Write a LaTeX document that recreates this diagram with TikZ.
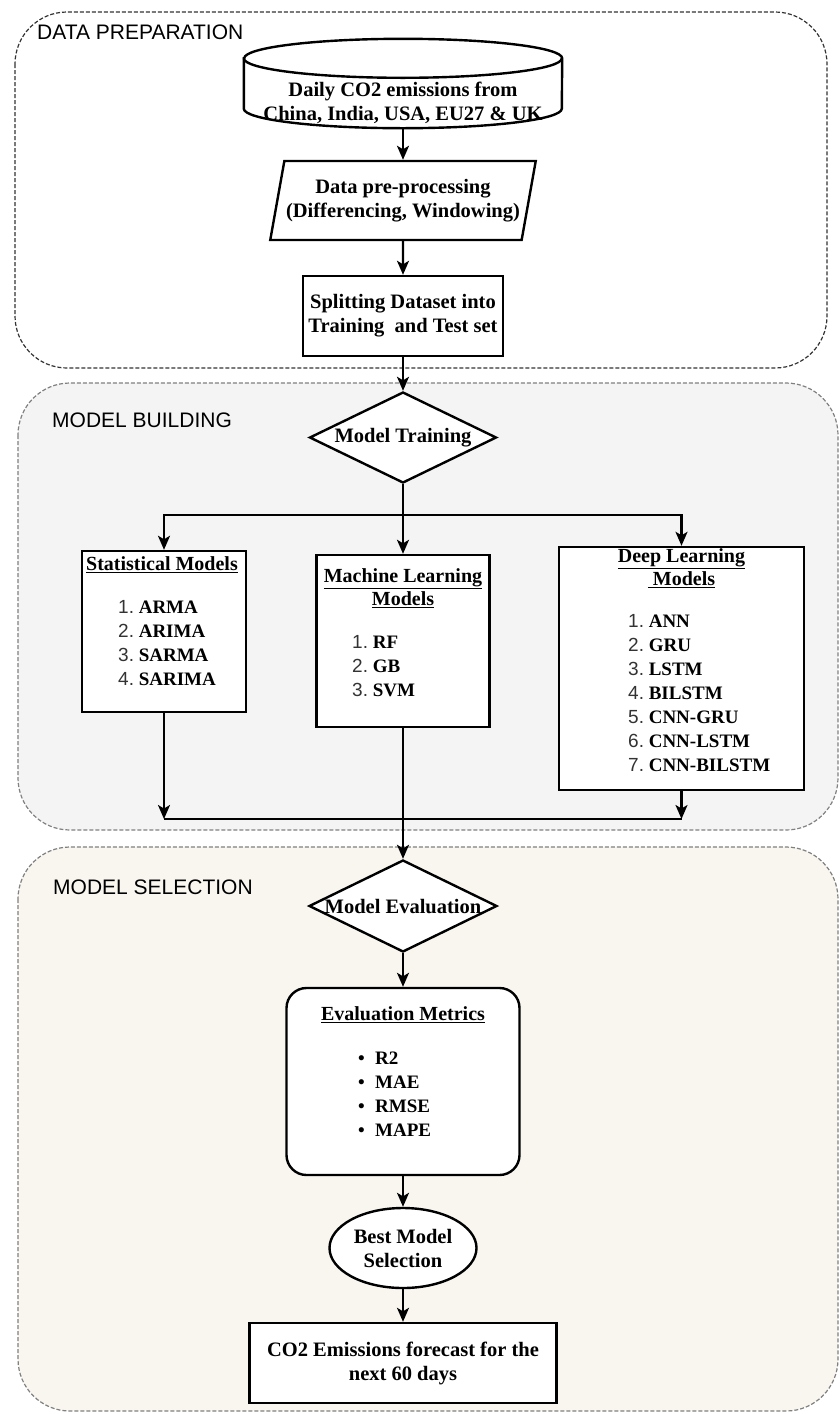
\documentclass[tikz,border=0pt]{standalone}
\usepackage{fontspec}
\setmainfont{Liberation Serif}
\setsansfont{Liberation Sans}
\usetikzlibrary{shapes.geometric,arrows.meta}
\definecolor{buildfill}{HTML}{F4F4F4}
\definecolor{selectfill}{HTML}{F8F6EF}
\definecolor{numgray}{HTML}{333333}
\newcommand{\nitem}[2]{{\sffamily\mdseries\color{numgray}#1.}\ #2}
\newcommand{\bitem}[1]{\makebox[17pt][l]{\textbullet}#1}
\tikzset{
  panel/.style={rounded corners=52pt, dash pattern=on 4pt off 2pt, line width=1.2pt},
  stage/.style={font=\sffamily\fontsize{21}{24}\selectfont, anchor=west, inner sep=0pt},
  box/.style={draw, line width=2.4pt, fill=white, align=center, inner sep=0pt,
    font=\bfseries\fontsize{20.5}{24}\selectfont},
  title/.style={align=center, inner sep=0pt, font=\bfseries\fontsize{20}{23}\selectfont},
  items/.style={anchor=north west, inner sep=0pt, font=\bfseries\fontsize{19}{24}\selectfont},
  flow/.style={line width=2.2pt, ->},
}
\begin{document}
\begin{tikzpicture}[x=1pt, y=-1pt, >={Stealth[length=14pt,width=12pt,inset=3.5pt]}]
  \useasboundingbox (0,0) rectangle (840,1414);

  % stages
  \draw[panel, draw=black!80] (15,12) rectangle (827,368);
  \draw[panel, draw=black!50, fill=buildfill] (18,383) rectangle (838,830);
  \draw[panel, draw=black!50, fill=selectfill] (18,847) rectangle (838,1411);
  \node[stage] (lblprep) at (37,32) {DATA PREPARATION};
  \node[stage] (lblbuild) at (52,420) {MODEL BUILDING};
  \node[stage] (lblselect) at (53,887) {MODEL SELECTION};

  % data preparation
  \node[minimum width=318pt, minimum height=89pt, inner sep=0pt] (src) at (403,83.5) {};
  \draw[line width=2.4pt, fill=white] ([yshift=-19.5pt]src.north west)
    -- ([yshift=19.5pt]src.south west)
    arc[start angle=180, end angle=360, x radius=159pt, y radius=19.5pt]
    -- ([yshift=-19.5pt]src.north east)
    arc[start angle=0, end angle=180, x radius=159pt, y radius=19.5pt] -- cycle;
  \draw[line width=2.4pt] ([yshift=-19.5pt]src.north west)
    arc[start angle=180, end angle=360, x radius=159pt, y radius=19.5pt];
  \node[box, draw=none, fill=none] (srctxt) at (403,102.5)
    {Daily CO2 emissions from\\China, India, USA, EU27 \& UK};
  \node[box, trapezium, trapezium left angle=72, trapezium right angle=108,
    trapezium stretches=true, minimum width=266pt, minimum height=79pt] (prep) at (403,200.5)
    {Data pre-processing\\(Differencing, Windowing)};
  \node[box, minimum width=200pt, minimum height=80pt] (split) at (403,316)
    {Splitting Dataset into\\Training \ and Test set};

  % model building
  \node[box, diamond, minimum width=187pt, minimum height=91pt] (train) at (403,437.5)
    {\makebox[0pt]{Model Training}};
  \node[box, minimum width=164pt, minimum height=161pt] (stat) at (164,631.5) {};
  \node[box, minimum width=173pt, minimum height=172pt] (ml) at (403,641) {};
  \node[box, minimum width=245pt, minimum height=243pt] (deep) at (681.5,668.5) {};
  \node[title] (stattitle) at (162,565) {\underline{Statistical Models}};
  \node[title] (mltitle) at (403,588) {\underline{Machine Learning}\\\underline{Models}};
  \node[title] (deeptitle) at (681.5,568.5) {\underline{Deep Learning}\\\underline{\ Models}};
  \node[items] (statlist) at (118,596.5) {\begin{tabular}[t]{@{}l@{}}
    \nitem{1}{ARMA}\\ \nitem{2}{ARIMA}\\ \nitem{3}{SARMA}\\ \nitem{4}{SARIMA}\end{tabular}};
  \node[items] (mllist) at (352,631.5) {\begin{tabular}[t]{@{}l@{}}
    \nitem{1}{RF}\\ \nitem{2}{GB}\\ \nitem{3}{SVM}\end{tabular}};
  \node[items] (deeplist) at (628,610.5) {\begin{tabular}[t]{@{}l@{}}
    \nitem{1}{ANN}\\ \nitem{2}{GRU}\\ \nitem{3}{LSTM}\\ \nitem{4}{BILSTM}\\
    \nitem{5}{CNN-GRU}\\ \nitem{6}{CNN-LSTM}\\ \nitem{7}{CNN-BILSTM}\end{tabular}};

  % model selection
  \node[box, diamond, minimum width=188pt, minimum height=92pt] (eval) at (403,906)
    {\makebox[0pt]{Model Evaluation}};
  \node[box, rounded corners=20pt, minimum width=233pt, minimum height=187pt] (metrics) at (403,1081.5) {};
  \node[title] (metricstitle) at (403,1015) {\underline{Evaluation Metrics}};
  \node[items] (metricslist) at (358,1047.5) {\begin{tabular}[t]{@{}l@{}}
    \bitem{R2}\\ \bitem{MAE}\\ \bitem{RMSE}\\ \bitem{MAPE}\end{tabular}};
  \node[box, ellipse, minimum width=147pt, minimum height=80pt] (best) at (403,1248)
    {Best Model\\Selection};
  \node[box, minimum width=307pt, minimum height=80pt] (fcst) at (403,1363)
    {CO2 Emissions forecast for the\\next 60 days};

  % connectors
  \coordinate (fork) at (403,515);
  \coordinate (join) at (403,819);
  \draw[flow] (src) -- (prep);
  \draw[flow] (prep) -- (split);
  \draw[flow] (split) -- (train);
  \draw[flow] (train) -- (ml);
  \draw[flow] (fork) -| (stat.north);
  \draw[flow] (fork) -| (deep.north);
  \draw[flow] (stat.south) -- (stat.south |- join);
  \draw[flow] (deep.south) -- (deep.south |- join);
  \draw[line width=2.2pt] (stat.south |- join) -- (deep.south |- join);
  \draw[flow] (ml) -- (eval);
  \draw[flow] (eval) -- (metrics);
  \draw[flow] (metrics) -- (best);
  \draw[flow] (best) -- (fcst);
\end{tikzpicture}
\end{document}
